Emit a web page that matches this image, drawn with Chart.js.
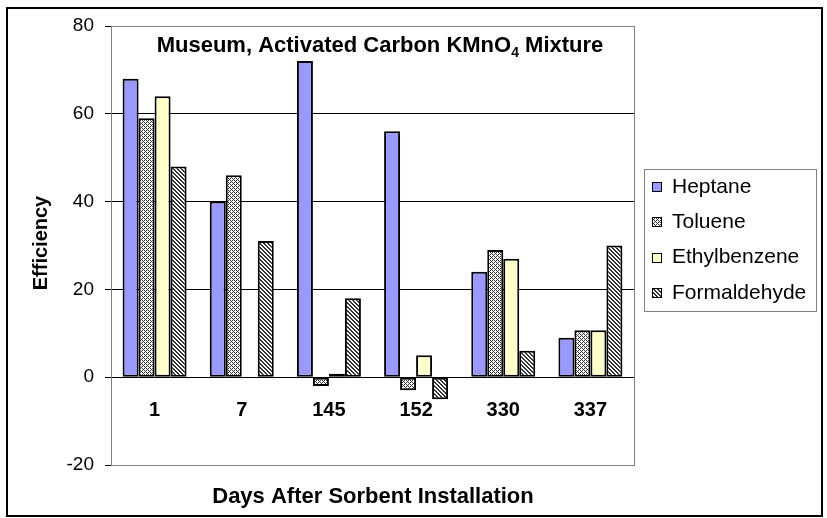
<!DOCTYPE html>
<html><head><meta charset="utf-8">
<script src="https://cdn.jsdelivr.net/npm/chart.js@4.4.0/dist/chart.umd.min.js"></script>
<style>html,body{margin:0;padding:0;background:#fff;overflow:hidden}canvas{display:block}</style>
</head><body>
<canvas id="c" width="827" height="518"></canvas>
<script>
const categories = ['1', '7', '145', '152', '330', '337'];
const heptane = [68, 40, 72, 56, 24, 9];
const toluene = [59, 46, -2, -3, 29, 10.7];
const ethylbenzene = [64, null, 0.8, 5, 27, 10.7];
const formaldehyde = [48, 31, 18, -5, 6, 30];
const seriesNames = ['Heptane', 'Toluene', 'Ethylbenzene', 'Formaldehyde'];
const yTicks = [-20, 0, 20, 40, 60, 80];
const titleMain = 'Museum, Activated Carbon KMnO';
const titleSub = '4';
const titleTail = ' Mixture';
const xTitle = 'Days After Sorbent Installation';
const yTitle = 'Efficiency';

const FONT = "'Liberation Sans', Arial, sans-serif";
const canvas = document.getElementById('c');
const ctx = canvas.getContext('2d');

function makePattern(n, fn) {
  const c = document.createElement('canvas');
  c.width = n; c.height = n;
  const g = c.getContext('2d');
  g.fillStyle = '#fff'; g.fillRect(0, 0, n, n);
  g.fillStyle = '#333';
  for (let y = 0; y < n; y++) for (let x = 0; x < n; x++) if (fn(x, y)) g.fillRect(x, y, 1, 1);
  return ctx.createPattern(c, 'repeat');
}
const tolPattern = makePattern(4, (x, y) => ((x + y) % 2 === 0 && !((x + y) % 4 === 2 && x % 2 === 1)) );
const formPattern = makePattern(4, (x, y) => ((x - y + 8) % 4) < 2);
const fills = ['#9999FF', tolPattern, '#FFFFCC', formPattern];
const seriesData = [heptane, toluene, ethylbenzene, formaldehyde];

const decor = {
  id: 'decor',
  afterDraw(chart) {
    const g = chart.ctx;
    const a = chart.chartArea;
    g.save();
    g.strokeStyle = '#808080'; g.lineWidth = 1;
    g.strokeRect(Math.round(a.left) + 0.5, Math.round(a.top) + 0.5, Math.round(a.right - a.left), Math.round(a.bottom - a.top));
    g.fillStyle = '#000';
    g.textBaseline = 'alphabetic';
    const big = 'bold 22px ' + FONT, small = 'bold 14px ' + FONT;
    g.font = big; const w1 = g.measureText(titleMain).width, w3 = g.measureText(titleTail).width;
    g.font = small; const w2 = g.measureText(titleSub).width;
    let x = 380 - (w1 + w2 + w3) / 2;
    g.textAlign = 'left';
    g.font = big; g.fillText(titleMain, x, 52); x += w1;
    g.font = small; g.fillText(titleSub, x, 57); x += w2;
    g.font = big; g.fillText(titleTail, x, 52);
    g.textAlign = 'center';
    g.font = 'bold 22px ' + FONT;
    g.fillText(xTitle, 373, 503);
    g.save();
    g.translate(41, 243); g.rotate(-Math.PI / 2);
    g.textBaseline = 'middle'; g.font = 'bold 20px ' + FONT;
    g.fillText(yTitle, 0, 0);
    g.restore();
    g.strokeStyle = '#808080'; g.lineWidth = 1;
    g.strokeRect(644.5, 169.5, 172, 142);
    g.textAlign = 'left'; g.textBaseline = 'middle'; g.font = '21px ' + FONT;
    chart.data.datasets.forEach((ds, i) => {
      const cy = 187 + i * 35.3;
      g.fillStyle = ds.backgroundColor;
      g.fillRect(652, Math.round(cy) - 5, 10, 10);
      g.strokeStyle = '#000';
      g.strokeRect(652.5, Math.round(cy) - 4.5, 9, 9);
      g.fillStyle = '#000';
      g.fillText(ds.label, 672, cy);
    });
    g.strokeStyle = '#000'; g.lineWidth = 2;
    g.strokeRect(7, 8, 815, 508);
    g.restore();
  }
};

new Chart(ctx, {
  type: 'bar',
  data: {
    labels: categories,
    datasets: seriesNames.map((n, i) => ({ label: n, data: seriesData[i], backgroundColor: fills[i] }))
  },
  options: {
    responsive: false, animation: false, devicePixelRatio: 1,
    layout: { padding: { left: 0, top: 26, right: 193, bottom: 53 } },
    datasets: { bar: { categoryPercentage: 0.734, barPercentage: 1, borderColor: '#000', borderWidth: 2, borderSkipped: false } },
    plugins: { legend: { display: false }, title: { display: false }, tooltip: { enabled: false } },
    scales: {
      x: {
        position: { y: 0 },
        grid: { display: false, drawTicks: false },
        border: { display: true, color: '#000', width: 1 },
        ticks: { padding: 21, color: '#000', font: { family: FONT, size: 20, weight: 'bold' } }
      },
      y: {
        min: -20, max: 80,
        afterBuildTicks: s => { s.ticks = yTicks.map(v => ({ value: v })); },
        afterFit: s => { s.width = 111; },
        grid: {
          color: c => (c.tick && (c.tick.value === 80 || c.tick.value === -20)) ? 'rgba(0,0,0,0)' : '#000',
          tickColor: '#000', tickLength: 6, drawTicks: true
        },
        border: { color: '#808080', width: 1 },
        ticks: { padding: 11, color: '#000', font: { family: FONT, size: 19 } }
      }
    }
  },
  plugins: [decor]
});
</script>
</body></html>
